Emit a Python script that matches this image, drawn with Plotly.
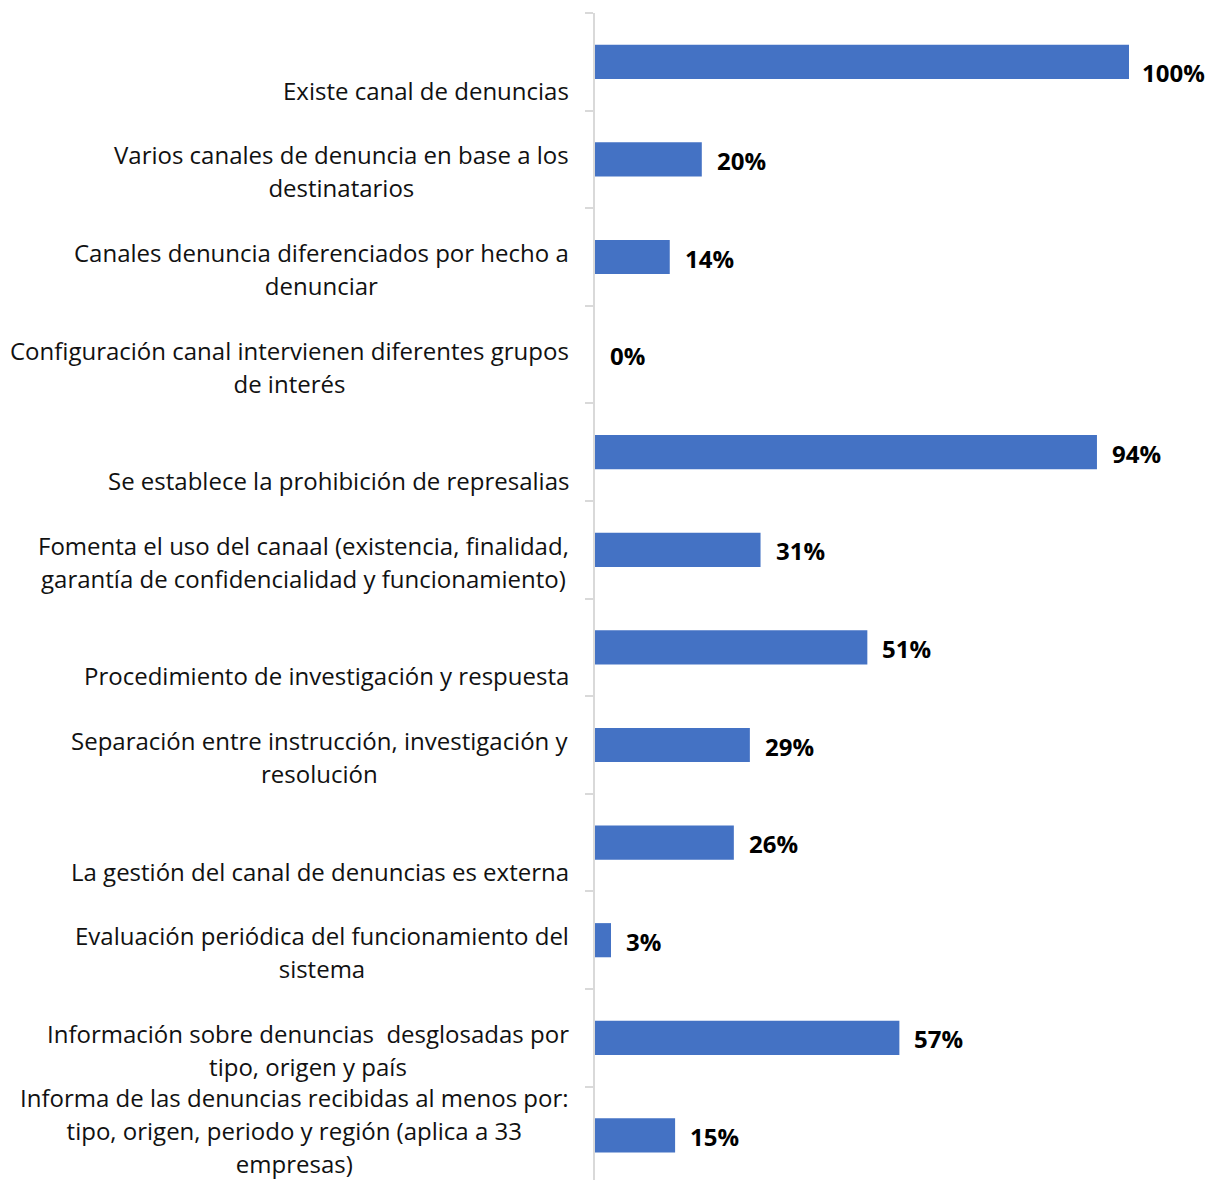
import plotly.graph_objects as go

categories = [
    "Existe canal de denuncias",
    "Varios canales de denuncia en base a los<br>destinatarios",
    "Canales denuncia diferenciados por hecho a<br>denunciar",
    "Configuración canal intervienen diferentes grupos<br>de interés",
    "Se establece la prohibición de represalias",
    "Fomenta el uso del canaal (existencia, finalidad,<br>garantía de confidencialidad y funcionamiento)",
    "Procedimiento de investigación y respuesta",
    "Separación entre instrucción, investigación y<br>resolución",
    "La gestión del canal de denuncias es externa",
    "Evaluación periódica del funcionamiento del<br>sistema",
    "Información sobre denuncias  desglosadas por<br>tipo, origen y país",
    "Informa de las denuncias recibidas al menos por:<br>tipo, origen, periodo y región (aplica a 33<br>empresas)",
]
values = [100, 20, 14, 0, 94, 31, 51, 29, 26, 3, 57, 15]
value_labels = [f"{v}%" for v in values]

BAR_COLOR = "#4472C4"
GRID = "#d9d9d9"
positions = list(range(len(categories)))

fig = go.Figure()
fig.add_trace(go.Bar(
    x=values, y=positions, orientation="h", width=0.35,
    marker=dict(color=BAR_COLOR, line=dict(width=0)),
    hoverinfo="skip", showlegend=False,
))

vmax = max(values)
annotations = []
for i, (cat, lab, v) in enumerate(zip(categories, value_labels, values)):
    # value label (the full-width bar's label sits slightly lower, as in the original)
    full = (v == vmax)
    annotations.append(dict(
        x=v, y=i, xref="x", yref="y", text=lab, showarrow=False,
        xanchor="left", yanchor="middle",
        xshift=11 if full else 13, yshift=-11 if full else -1,
        font=dict(family="Open Sans", size=24, color="#000000", weight="bold"),
    ))
    # category label (line spacing via larger outer font size)
    lines = cat.split("<br>")
    txt = "<br>".join(f"<span style='font-size:24px'>{ln}</span>" for ln in lines)
    annotations.append(dict(
        x=0, y=i, xref="paper", yref="y", text=txt, showarrow=False,
        xanchor="right", yanchor="bottom", align="center", xshift=-24, yshift=-47,
        font=dict(family="Open Sans", size=25.4, color="#111111"),
    ))

fig.update_layout(
    width=1213, height=1180,
    margin=dict(l=595, r=84, t=13, b=0),
    paper_bgcolor="white", plot_bgcolor="white",
    bargap=0.65,
    annotations=annotations,
    xaxis=dict(range=[0, 100], visible=False, showgrid=False, zeroline=False, fixedrange=True),
    yaxis=dict(
        range=[11.457, -0.5], showgrid=False, zeroline=False,
        showline=True, linecolor=GRID, linewidth=1.5,
        tickmode="array", tickvals=[p - 0.5 for p in positions], ticktext=["" for _ in positions],
        ticks="outside", ticklen=8, tickcolor=GRID, tickwidth=1.5,
        showticklabels=False,
    ),
)

fig.write_html("out.html")
